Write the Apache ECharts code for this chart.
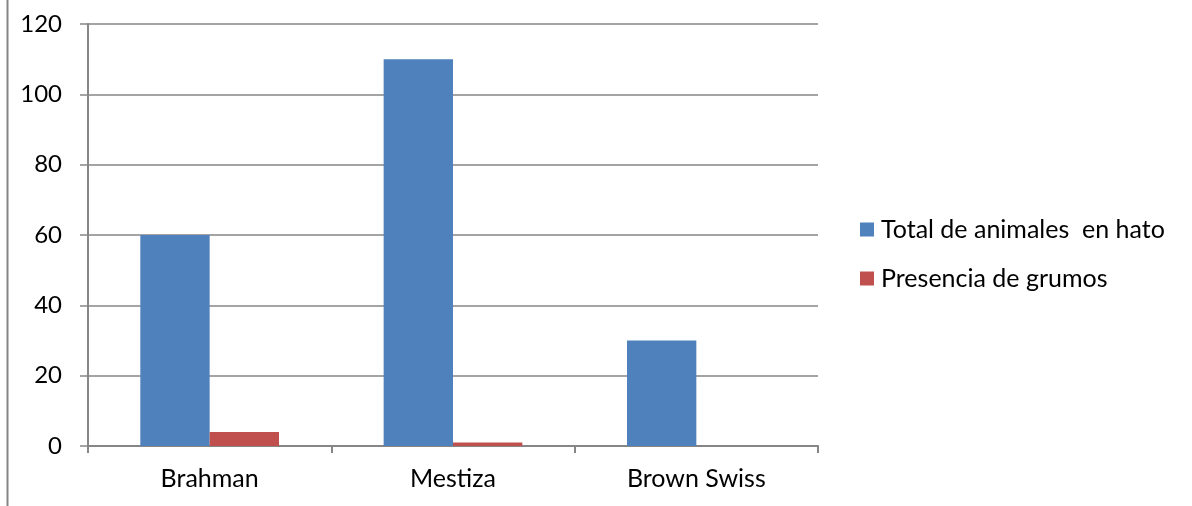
<!DOCTYPE html>
<html>
<head>
<meta charset="utf-8">
<script src="https://cdn.jsdelivr.net/npm/echarts@6/dist/echarts.min.js"></script>
<style>
  html, body { margin: 0; padding: 0; background: #fff; }
  #chart { width: 1192px; height: 506px; }
</style>
</head>
<body>
<div id="chart"></div>
<script>
// Breeds and counts per herd
const categories = ['Brahman', 'Mestiza', 'Brown Swiss'];
const totalAnimales = [60, 110, 30];
const presenciaGrumos = [4, 1, 0];
const seriesNames = ['Total de animales  en hato', 'Presencia de grumos'];

const FONT = 'Lato, "Open Sans", sans-serif';
const GRAY = '#868686';

const chart = echarts.init(document.getElementById('chart'));
chart.setOption({
  animation: false,
  textStyle: { fontFamily: FONT },
  grid: { left: 88, right: 374, top: 24, bottom: 60, containLabel: false },
  legend: {
    orient: 'vertical',
    left: 860,
    top: 217,
    padding: 0,
    itemWidth: 14,
    itemHeight: 14,
    itemGap: 24,
    icon: 'rect',
    textStyle: { fontSize: 25, lineHeight: 25, color: '#000', fontFamily: FONT, padding: [0, 0, 0, 2] },
    data: seriesNames
  },
  xAxis: {
    type: 'category',
    data: categories,
    axisLine: { lineStyle: { color: GRAY, width: 2 } },
    axisTick: { show: true, length: 7, lineStyle: { color: GRAY, width: 2 } },
    axisLabel: { fontSize: 25, color: '#000', margin: 20, fontFamily: FONT }
  },
  yAxis: {
    type: 'value',
    min: 0,
    max: 120,
    interval: 20,
    axisLine: { show: true, lineStyle: { color: GRAY, width: 2 } },
    axisTick: { show: true, length: 8, lineStyle: { color: GRAY, width: 1.5 } },
    splitLine: { lineStyle: { color: GRAY, width: 1.5 } },
    axisLabel: { fontSize: 24, color: '#000', margin: 26, fontFamily: FONT }
  },
  series: [
    {
      name: seriesNames[0],
      type: 'bar',
      data: totalAnimales,
      barGap: '0%',
      barCategoryGap: '43%',
      itemStyle: { color: '#4F81BD' }
    },
    {
      name: seriesNames[1],
      type: 'bar',
      data: presenciaGrumos,
      itemStyle: { color: '#C0504D' }
    }
  ],
  graphic: [
    {
      type: 'line',
      shape: { x1: 7.5, y1: 0, x2: 7.5, y2: 506 },
      style: { stroke: GRAY, lineWidth: 2 }
    }
  ]
});
</script>
</body>
</html>
